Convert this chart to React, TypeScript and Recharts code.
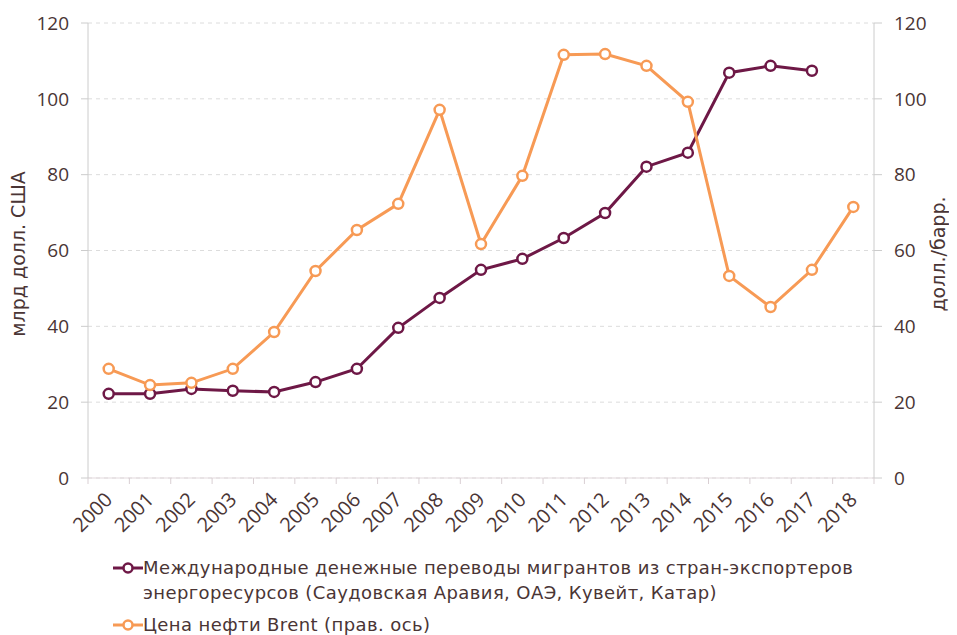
import { LineChart, Line, XAxis, YAxis, CartesianGrid } from 'recharts'

const years = ['2000', '2001', '2002', '2003', '2004', '2005', '2006', '2007', '2008', '2009',
  '2010', '2011', '2012', '2013', '2014', '2015', '2016', '2017', '2018']
const remittances = [22.2, 22.2, 23.5, 23.0, 22.7, 25.3, 28.8, 39.6, 47.5, 54.9,
  57.8, 63.3, 69.9, 82.1, 85.8, 106.9, 108.7, 107.4, null]
const brent = [28.8, 24.5, 25.1, 28.8, 38.5, 54.6, 65.4, 72.3, 97.1, 61.7,
  79.7, 111.6, 111.8, 108.7, 99.2, 53.3, 45.1, 54.9, 71.5]
const yTicks = [0, 20, 40, 60, 80, 100, 120]

const data = years.map((year, i) => ({ year, remittances: remittances[i], brent: brent[i] }))

const PURPLE = '#6e1846'
const ORANGE = '#f79a55'
const TEXT = '#4a3535'
const FONT = '"Open Sans", sans-serif'
const WIDE_FONT = '"DejaVu Sans", sans-serif'

const W = 949
const H = 530
const LEFT_W = 80
const RIGHT_W = 83
const HALF_BAND = (W - LEFT_W - RIGHT_W) / years.length / 2

function YearTick({ x, y, payload, index }: any) {
  const last = index === years.length - 1
  return (
    <g>
      <line x1={x - HALF_BAND} y1={y - 8} x2={x - HALF_BAND} y2={y - 2} stroke="#d9cfd3" />
      {last && <line x1={x + HALF_BAND} y1={y - 8} x2={x + HALF_BAND} y2={y - 2} stroke="#d9cfd3" />}
      <text x={x + 5} y={y + 15} textAnchor="end" fill={TEXT} fontSize={20} fontFamily={FONT}
        transform={`rotate(-45 ${x + 5} ${y + 15})`}>
        {payload.value}
      </text>
    </g>
  )
}

function AxisTitle({ viewBox, value, side }: any) {
  const cx = side === 'left' ? 17 : viewBox.x + viewBox.width - 12
  const cy = 246
  return (
    <text x={cx} y={cy} textAnchor="middle" fill={TEXT} fontSize={19} fontFamily={WIDE_FONT}
      transform={`rotate(-90 ${cx} ${cy})`}>
      {value}
    </text>
  )
}

function LegendIcon({ color }: { color: string }) {
  return (
    <svg width={30} height={14} style={{ verticalAlign: 'middle' }}>
      <line x1={0} y1={7} x2={30} y2={7} stroke={color} strokeWidth={3} />
      <circle cx={15} cy={7} r={4.5} fill="#fff" stroke={color} strokeWidth={2.5} />
    </svg>
  )
}

export default function App() {
  return (
    <div style={{ width: W, fontFamily: FONT }}>
      <LineChart width={W} height={H} data={data} margin={{ top: 15, right: 0, left: 0, bottom: 0 }}>
        <CartesianGrid vertical={false} stroke="#dcdcdc" strokeDasharray="4 4" yAxisId="left" />
        <XAxis dataKey="year" height={60} tickLine={false} stroke="#e3d9dd" interval={0}
          padding={{ left: HALF_BAND, right: HALF_BAND }} tick={<YearTick />} />
        <YAxis yAxisId="left" width={LEFT_W} domain={[0, 120]} ticks={yTicks} stroke="#cccccc"
          tickSize={7} tickMargin={12} tick={{ fill: TEXT, fontSize: 19, fontFamily: FONT }}
          label={<AxisTitle value="млрд долл. США" side="left" />} />
        <YAxis yAxisId="right" orientation="right" width={RIGHT_W} domain={[0, 120]} ticks={yTicks}
          stroke="#cccccc" tickSize={8} tickMargin={12} tick={{ fill: TEXT, fontSize: 19, fontFamily: FONT }}
          label={<AxisTitle value="долл./барр." side="right" />} />
        <Line yAxisId="left" dataKey="remittances" stroke={PURPLE} strokeWidth={3}
          dot={{ r: 5, fill: '#fff', stroke: PURPLE, strokeWidth: 2.5 }} isAnimationActive={false} />
        <Line yAxisId="right" dataKey="brent" stroke={ORANGE} strokeWidth={3}
          dot={{ r: 5, fill: '#fff', stroke: ORANGE, strokeWidth: 2.5 }} isAnimationActive={false} />
      </LineChart>
      <div style={{ paddingLeft: 105, paddingTop: 17, color: TEXT, fontSize: 18, lineHeight: '25px',
        fontFamily: WIDE_FONT, letterSpacing: 0.4 }}>
        <div style={{ display: 'flex' }}>
          <div style={{ height: 25, display: 'flex', alignItems: 'center' }}><LegendIcon color={PURPLE} /></div>
          <div>
            Международные денежные переводы мигрантов из стран-экспортеров<br />
            энергоресурсов (Саудовская Аравия, ОАЭ, Кувейт, Катар)
          </div>
        </div>
        <div style={{ display: 'flex', marginTop: 7 }}>
          <div style={{ height: 25, display: 'flex', alignItems: 'center' }}><LegendIcon color={ORANGE} /></div>
          <div>Цена нефти Brent (прав. ось)</div>
        </div>
      </div>
    </div>
  )
}
